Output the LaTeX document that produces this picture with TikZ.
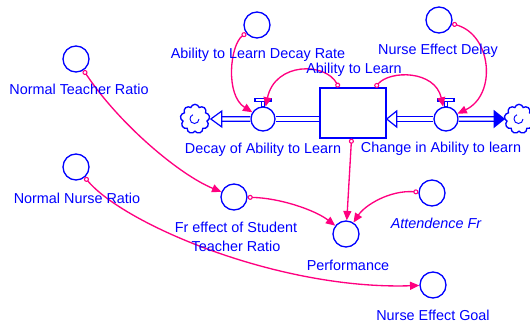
\documentclass[tikz,border=0pt]{standalone}
\usepackage{fontspec}
\setmainfont{Liberation Sans}
\usetikzlibrary{arrows.meta,shapes.symbols,calc}

\definecolor{sdblue}{RGB}{0,0,255}
\definecolor{sdpink}{RGB}{255,0,128}

\tikzset{every picture/.style={line width=0.75pt}}
\tikzset{
	aux/.style={draw=sdblue,circle,minimum size=19.5pt,inner sep=0pt,line width=1pt},
	valve/.style={draw=sdblue,circle,minimum size=18pt,inner sep=0pt,line width=1pt,fill=white},
	level/.style={draw=sdblue,rectangle,minimum width=49.5pt,minimum height=37.5pt,inner sep=0pt,line width=1pt},
	sink/.style={draw=sdblue,cloud,cloud puffs=9,aspect=1,minimum size=22pt,inner sep=0pt,line width=1pt},
	pipe/.style={draw=sdblue,double=white,double distance=2.6pt,line width=0.9pt},
	pipehead/.style={draw=sdblue,line width=0.9pt,fill=white},
	valvebar/.style={draw=sdblue,line width=0.9pt,fill=white},
	link/.style={draw=sdpink,line width=1pt,{Circle[open,length=3.8pt,line width=0.8pt]}-{Triangle[length=7pt,width=6pt]}},
	lbl/.style={text=sdblue,font=\fontsize{10.8}{14.25}\selectfont,inner sep=0pt,align=center}}

\begin{document}
\begin{tikzpicture}[x=0.75pt,y=0.75pt,yscale=-1,xscale=1]
	\useasboundingbox (0,0) rectangle (530,322);

	%Shape: Rectangle [stock]
	\node[level] (atl) at (353,113) {};
	%Shape: Circle [valves]
	\node[valve] (dal) at (263,119) {};
	\node[valve] (cal) at (446,119) {};
	%Shape: Cloud
	\node[sink] (lsrc) at (195,119) {};
	\node[sink] (rsrc) at (519,119) {};
	\draw[sdblue,line width=0.7pt] ($(lsrc.center)+(4,0)$) arc[start angle=0,end angle=250,radius=4.5];
	\draw[sdblue,line width=0.7pt] ($(rsrc.center)+(4,0)$) arc[start angle=0,end angle=250,radius=4.5];
	%Shape: Circle [auxiliaries]
	\node[aux] (aldr) at (257,25) {};
	\node[aux] (ned) at (439,20) {};
	\node[aux] (ntr) at (76,59) {};
	\node[aux] (nnr) at (76,167) {};
	\node[aux] (fre) at (234,197) {};
	\node[aux] (perf) at (346,234) {};
	\node[aux] (att) at (432,193) {};
	\node[aux] (neg) at (433,285) {};

	%Pipes
	\draw[pipe,shorten >=8.25pt] (dal) -- (lsrc);
	\draw[pipe] (atl.west |- dal) -- (dal);
	\draw[pipe,shorten <=7.5pt] (atl.east |- cal) -- (cal);
	\draw[pipe,shorten >=7.5pt] (cal) -- (rsrc);
	%Pipe heads
	\draw[pipehead] ($(lsrc.east)+(1,0)$) -- ++(11,-8) -- ++(0,16) -- cycle;
	\draw[pipehead] (atl.east |- cal) -- ++(10,-8) -- ++(0,16) -- cycle;
	\draw[pipehead,fill=sdblue] (rsrc.west) -- ++(-10,-8) -- ++(0,16) -- cycle;
	%Valve bars
	\draw[valvebar] ($(dal.north)+(-1.5,0)$) rectangle ($(dal.north)+(1.5,-5)$);
	\draw[valvebar] ($(dal.north)+(-8,-5)$) rectangle ($(dal.north)+(8,-8)$);
	\draw[valvebar] ($(cal.north)+(-1.5,0)$) rectangle ($(cal.north)+(1.5,-5)$);
	\draw[valvebar] ($(cal.north)+(-8,-5)$) rectangle ($(cal.north)+(8,-8)$);

	%Links
	\draw[link] (aldr) .. controls (230,45) and (225,95) .. (dal);
	\draw[link] (atl) .. controls (325,62) and (275,62) .. (dal);
	\draw[link] (atl) .. controls (390,70) and (435,70) .. (cal);
	\draw[link] (ned) .. controls (492,35) and (497,95) .. (cal);
	\draw[link] (atl) -- (perf);
	\draw[link] (att) .. controls (390,190) and (365,205) .. (perf);
	\draw[link] (fre) .. controls (280,198) and (315,210) .. (perf);
	\draw[link] (ntr) .. controls (120,125) and (180,175) .. (fre);
	\draw[link] (nnr) .. controls (125,225) and (280,290) .. (neg);

	% Text Node
	\node[lbl] (lbaldr) at (258,55) {Ability to Learn Decay Rate};
	% Text Node
	\node[lbl] (lbned) at (438,51) {Nurse Effect Delay};
	% Text Node
	\node[lbl] (lbatl) at (354,70) {Ability to Learn};
	% Text Node
	\node[lbl] (lbdal) at (263,150) {Decay of Ability to Learn};
	% Text Node
	\node[lbl] (lbcal) at (441,149) {Change in Ability to learn};
	% Text Node
	\node[lbl] (lbntr) at (79,89) {Normal Teacher Ratio};
	% Text Node
	\node[lbl] (lbnnr) at (77,198) {Normal Nurse Ratio};
	% Text Node
	\node[lbl] (lbfre) at (236,237) {Fr effect of Student\\Teacher Ratio};
	% Text Node
	\node[lbl] (lbperf) at (348,265) {Performance};
	% Text Node
	\node[lbl,font=\fontsize{10.8}{14.25}\selectfont\itshape] (lbatt) at (436,223) {Attendence Fr};
	% Text Node
	\node[lbl] (lbneg) at (433,315) {Nurse Effect Goal};
\end{tikzpicture}
\end{document}
